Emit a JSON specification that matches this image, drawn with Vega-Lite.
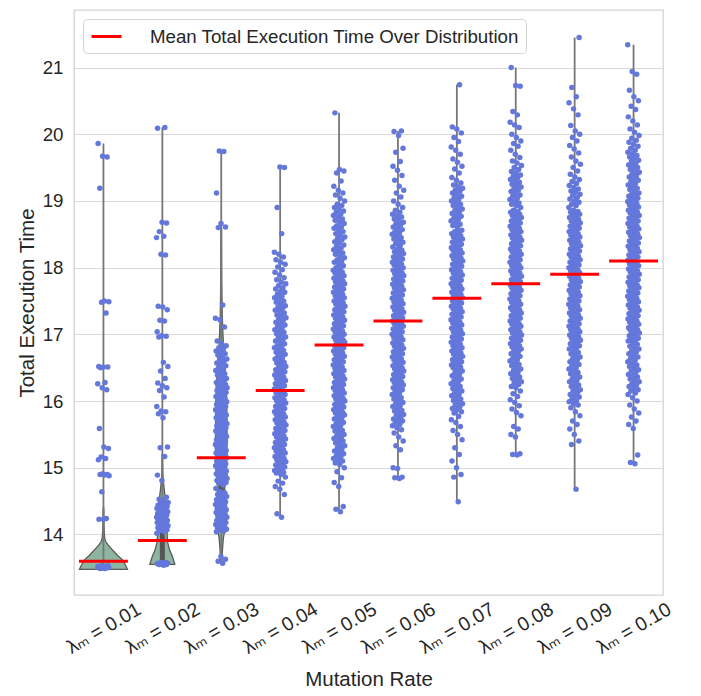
{
  "$schema": "https://vega.github.io/schema/vega-lite/v6.json",
  "width": 589,
  "height": 585,
  "autosize": "none",
  "padding": {"left": 74, "top": 10, "right": 38, "bottom": 101},
  "background": "white",
  "config": {
    "font": "Liberation Sans",
    "view": {"stroke": "#d4d4d4", "strokeWidth": 1.3},
    "axis": {
      "labelFont": "Liberation Sans, DejaVu Sans",
      "titleFont": "Liberation Sans",
      "labelColor": "#262626",
      "titleColor": "#262626",
      "titleFontWeight": "normal",
      "domain": false,
      "ticks": false,
      "tickSize": 0,
      "gridColor": "#d9d9d9",
      "gridWidth": 1.2
    },
    "axisX": {"grid": false}
  },
  "datasets": {
    "pts": [
      {"c": 0, "v": [13.49,13.49,13.5,13.5,13.5,13.5,13.5,13.51,13.51,13.51,13.51,13.52,13.52,13.52,13.53,13.53,14.23,14.23,14.24,14.64,14.88,14.89,14.9,14.9,14.91,15.12,15.14,15.16,15.29,15.31,15.59,16.17,16.2,16.26,16.28,16.5,16.51,16.51,16.52,17.32,17.48,17.49,17.5,19.19,19.66,19.67,19.86]},
      {"c": 1, "v": [13.54,13.55,13.55,13.56,13.56,13.56,13.56,13.57,13.57,13.57,13.58,13.58,14.02,14.04,14.06,14.07,14.08,14.1,14.11,14.12,14.13,14.14,14.15,14.16,14.17,14.18,14.19,14.2,14.21,14.22,14.23,14.24,14.25,14.26,14.27,14.28,14.29,14.3,14.31,14.32,14.33,14.34,14.35,14.36,14.37,14.38,14.39,14.4,14.41,14.42,14.43,14.44,14.45,14.46,14.48,14.5,14.53,14.56,14.81,14.89,15.17,15.3,15.31,15.75,15.81,15.84,15.85,15.92,16.06,16.16,16.2,16.23,16.27,16.34,16.45,16.52,16.58,16.96,16.97,16.98,17.04,17.2,17.21,17.37,17.41,17.42,18.19,18.2,18.45,18.47,18.54,18.67,18.68,20.09,20.1]},
      {"c": 2, "v": [13.57,13.6,13.63,13.67,14.04,14.05,14.07,14.08,14.08,14.1,14.11,14.14,14.15,14.16,14.18,14.18,14.19,14.21,14.22,14.23,14.26,14.27,14.29,14.3,14.31,14.33,14.33,14.35,14.37,14.38,14.39,14.42,14.43,14.45,14.46,14.47,14.49,14.5,14.52,14.53,14.56,14.57,14.59,14.6,14.62,14.64,14.69,14.74,14.77,14.78,14.8,14.81,14.81,14.83,14.84,14.87,14.88,14.89,14.91,14.91,14.92,14.94,14.95,14.96,14.99,15.0,15.02,15.03,15.04,15.06,15.06,15.08,15.1,15.11,15.12,15.15,15.16,15.18,15.19,15.2,15.22,15.23,15.25,15.26,15.29,15.3,15.32,15.33,15.35,15.37,15.38,15.39,15.41,15.42,15.45,15.46,15.47,15.49,15.5,15.52,15.53,15.55,15.56,15.57,15.6,15.61,15.63,15.64,15.64,15.66,15.68,15.69,15.71,15.72,15.75,15.76,15.78,15.79,15.8,15.82,15.83,15.85,15.87,15.88,15.91,15.92,15.93,15.95,15.96,15.98,15.99,16.01,16.02,16.04,16.06,16.07,16.09,16.1,16.13,16.14,16.16,16.17,16.18,16.2,16.21,16.23,16.25,16.26,16.28,16.3,16.32,16.34,16.37,16.39,16.41,16.44,16.46,16.47,16.5,16.53,16.55,16.57,16.6,16.62,16.63,16.66,16.69,16.71,16.73,16.75,16.78,16.8,16.83,16.86,16.9,17.11,17.22,17.24,17.44,18.6,18.61,18.66,19.12,19.74,19.75]},
      {"c": 3, "v": [14.26,14.31,14.6,14.68,14.72,14.77,14.8,14.86,14.9,14.92,14.93,14.95,14.96,14.98,15.0,15.01,15.03,15.04,15.06,15.08,15.09,15.11,15.12,15.14,15.16,15.17,15.19,15.2,15.22,15.24,15.25,15.27,15.28,15.3,15.32,15.33,15.35,15.36,15.38,15.4,15.41,15.43,15.44,15.46,15.48,15.49,15.51,15.52,15.54,15.56,15.57,15.59,15.6,15.62,15.64,15.65,15.67,15.68,15.7,15.72,15.73,15.75,15.76,15.78,15.8,15.81,15.83,15.84,15.86,15.88,15.89,15.91,15.92,15.94,15.96,15.97,15.99,16.0,16.02,16.04,16.05,16.07,16.08,16.1,16.12,16.13,16.15,16.16,16.18,16.2,16.21,16.23,16.24,16.26,16.28,16.29,16.31,16.32,16.34,16.36,16.37,16.39,16.4,16.42,16.44,16.45,16.47,16.48,16.5,16.52,16.54,16.57,16.58,16.61,16.63,16.64,16.67,16.7,16.71,16.73,16.76,16.77,16.8,16.82,16.83,16.86,16.89,16.9,16.92,16.95,16.96,16.99,17.01,17.03,17.06,17.07,17.1,17.12,17.14,17.17,17.18,17.21,17.23,17.25,17.28,17.29,17.32,17.35,17.36,17.39,17.41,17.43,17.46,17.48,17.5,17.53,17.55,17.57,17.6,17.63,17.64,17.68,17.7,17.73,17.76,17.78,17.82,17.85,17.89,17.93,17.97,18.01,18.05,18.08,18.12,18.16,18.2,18.23,18.51,18.9,19.5,19.51]},
      {"c": 4, "v": [14.34,14.38,14.42,14.72,14.78,14.85,14.94,15.0,15.05,15.07,15.1,15.11,15.14,15.17,15.18,15.21,15.24,15.25,15.28,15.3,15.33,15.34,15.37,15.4,15.41,15.44,15.46,15.48,15.5,15.53,15.55,15.56,15.59,15.62,15.63,15.66,15.68,15.7,15.73,15.74,15.77,15.79,15.8,15.82,15.83,15.84,15.87,15.88,15.9,15.91,15.93,15.95,15.96,15.98,16.0,16.01,16.03,16.04,16.06,16.08,16.09,16.11,16.12,16.14,16.16,16.17,16.19,16.2,16.22,16.24,16.25,16.27,16.28,16.3,16.32,16.33,16.35,16.36,16.38,16.4,16.41,16.43,16.44,16.46,16.48,16.49,16.51,16.52,16.54,16.56,16.57,16.59,16.6,16.62,16.64,16.65,16.67,16.68,16.7,16.72,16.73,16.75,16.76,16.78,16.8,16.81,16.83,16.84,16.86,16.88,16.89,16.91,16.92,16.94,16.96,16.97,16.99,17.0,17.02,17.04,17.05,17.07,17.08,17.1,17.12,17.13,17.15,17.16,17.18,17.2,17.21,17.23,17.24,17.26,17.28,17.29,17.31,17.32,17.34,17.36,17.37,17.39,17.4,17.42,17.44,17.45,17.47,17.48,17.5,17.52,17.53,17.55,17.56,17.58,17.6,17.61,17.63,17.64,17.66,17.68,17.69,17.71,17.72,17.74,17.76,17.77,17.79,17.8,17.82,17.84,17.85,17.87,17.88,17.9,17.92,17.93,17.95,17.96,17.98,18.0,18.03,18.05,18.08,18.1,18.12,18.15,18.17,18.2,18.22,18.25,18.27,18.29,18.32,18.34,18.37,18.39,18.42,18.44,18.46,18.49,18.51,18.54,18.56,18.59,18.61,18.63,18.66,18.68,18.71,18.73,18.76,18.78,18.8,18.83,18.85,18.88,18.9,18.93,18.95,19.0,19.04,19.09,19.12,19.16,19.22,19.3,19.42,19.45,19.47,20.32]},
      {"c": 5, "v": [14.84,14.85,14.86,14.99,15.0,15.27,15.33,15.4,15.46,15.52,15.57,15.6,15.63,15.65,15.67,15.7,15.72,15.73,15.76,15.79,15.8,15.83,15.85,15.86,15.89,15.92,15.93,15.96,15.98,16.0,16.03,16.05,16.07,16.1,16.12,16.14,16.17,16.18,16.2,16.21,16.23,16.24,16.26,16.28,16.29,16.31,16.32,16.34,16.36,16.37,16.39,16.4,16.42,16.44,16.45,16.47,16.48,16.5,16.52,16.53,16.55,16.56,16.58,16.6,16.61,16.63,16.64,16.66,16.68,16.69,16.71,16.72,16.74,16.76,16.77,16.79,16.8,16.82,16.84,16.85,16.87,16.88,16.9,16.92,16.93,16.95,16.96,16.98,17.0,17.01,17.03,17.04,17.06,17.08,17.09,17.11,17.12,17.14,17.16,17.17,17.19,17.2,17.22,17.24,17.25,17.27,17.28,17.3,17.32,17.33,17.35,17.36,17.38,17.4,17.41,17.43,17.44,17.46,17.48,17.49,17.51,17.52,17.54,17.56,17.57,17.59,17.6,17.62,17.64,17.65,17.67,17.68,17.7,17.72,17.73,17.75,17.76,17.78,17.8,17.81,17.83,17.84,17.86,17.88,17.89,17.91,17.92,17.94,17.96,17.97,17.99,18.0,18.02,18.04,18.05,18.07,18.08,18.1,18.12,18.13,18.15,18.16,18.18,18.2,18.21,18.23,18.24,18.26,18.28,18.31,18.33,18.36,18.38,18.4,18.43,18.45,18.47,18.5,18.52,18.54,18.57,18.59,18.61,18.64,18.66,18.68,18.71,18.73,18.76,18.78,18.8,18.83,18.86,18.9,18.95,19.0,19.06,19.12,19.16,19.22,19.31,19.38,19.46,19.52,19.59,19.73,19.79,19.98,20.04,20.05]},
      {"c": 6, "v": [14.49,14.86,14.9,15.0,15.1,15.2,15.3,15.42,15.5,15.56,15.62,15.68,15.72,15.77,15.82,15.84,15.87,15.89,15.91,15.94,15.96,15.98,16.01,16.03,16.05,16.08,16.1,16.12,16.15,16.17,16.19,16.22,16.24,16.26,16.29,16.31,16.33,16.36,16.38,16.4,16.43,16.45,16.47,16.5,16.51,16.53,16.54,16.56,16.58,16.59,16.61,16.62,16.64,16.66,16.67,16.69,16.7,16.72,16.74,16.75,16.77,16.78,16.8,16.82,16.83,16.85,16.86,16.88,16.9,16.91,16.93,16.94,16.96,16.98,16.99,17.01,17.02,17.04,17.06,17.07,17.09,17.1,17.12,17.14,17.15,17.17,17.18,17.2,17.22,17.23,17.25,17.26,17.28,17.3,17.31,17.33,17.34,17.36,17.38,17.39,17.41,17.42,17.44,17.46,17.47,17.49,17.5,17.52,17.54,17.55,17.57,17.58,17.6,17.62,17.63,17.65,17.66,17.68,17.7,17.71,17.73,17.74,17.76,17.78,17.79,17.81,17.82,17.84,17.86,17.87,17.89,17.9,17.92,17.94,17.95,17.97,17.98,18.0,18.02,18.03,18.05,18.06,18.08,18.1,18.11,18.13,18.14,18.16,18.18,18.19,18.21,18.22,18.24,18.26,18.27,18.29,18.3,18.32,18.34,18.35,18.37,18.38,18.4,18.42,18.43,18.45,18.46,18.48,18.5,18.51,18.53,18.54,18.56,18.6,18.63,18.65,18.67,18.7,18.72,18.74,18.77,18.79,18.81,18.84,18.86,18.88,18.91,18.93,18.95,18.98,19.0,19.02,19.05,19.07,19.09,19.12,19.14,19.16,19.19,19.21,19.24,19.27,19.31,19.35,19.42,19.48,19.52,19.58,19.63,19.7,19.76,19.81,19.89,19.95,20.02,20.08,20.11,20.74]},
      {"c": 7, "v": [15.19,15.2,15.21,15.46,15.5,15.58,15.62,15.78,15.83,15.88,15.93,15.98,16.02,16.07,16.11,16.15,16.2,16.22,16.25,16.27,16.29,16.32,16.34,16.36,16.39,16.41,16.43,16.46,16.48,16.5,16.53,16.55,16.57,16.6,16.62,16.64,16.67,16.69,16.71,16.74,16.76,16.78,16.8,16.81,16.83,16.84,16.86,16.88,16.89,16.91,16.92,16.94,16.96,16.97,16.99,17.0,17.02,17.04,17.05,17.07,17.08,17.1,17.12,17.13,17.15,17.16,17.18,17.2,17.21,17.23,17.24,17.26,17.28,17.29,17.31,17.32,17.34,17.36,17.37,17.39,17.4,17.42,17.44,17.45,17.47,17.48,17.5,17.52,17.53,17.55,17.56,17.58,17.6,17.61,17.63,17.64,17.66,17.68,17.69,17.71,17.72,17.74,17.76,17.77,17.79,17.8,17.82,17.84,17.85,17.87,17.88,17.9,17.92,17.93,17.95,17.96,17.98,18.0,18.01,18.03,18.04,18.06,18.08,18.09,18.11,18.12,18.14,18.16,18.17,18.19,18.2,18.22,18.24,18.25,18.27,18.28,18.3,18.32,18.33,18.35,18.36,18.38,18.4,18.41,18.43,18.44,18.46,18.48,18.49,18.51,18.52,18.54,18.56,18.57,18.59,18.6,18.62,18.64,18.65,18.67,18.68,18.7,18.72,18.73,18.75,18.76,18.78,18.8,18.81,18.83,18.84,18.86,18.9,18.93,18.95,18.97,19.0,19.02,19.04,19.07,19.09,19.11,19.14,19.16,19.18,19.21,19.23,19.25,19.28,19.3,19.32,19.35,19.37,19.39,19.42,19.44,19.47,19.5,19.53,19.57,19.6,19.65,19.7,19.76,19.82,19.86,19.9,19.95,20.0,20.1,20.14,20.18,20.29,20.34,20.72,20.73,21.0]},
      {"c": 8, "v": [14.68,15.35,15.4,15.5,15.58,15.65,15.7,15.78,15.84,15.9,15.94,15.96,15.99,16.01,16.03,16.06,16.08,16.1,16.13,16.15,16.17,16.2,16.22,16.24,16.27,16.29,16.31,16.34,16.36,16.38,16.41,16.43,16.45,16.48,16.5,16.52,16.55,16.57,16.59,16.62,16.64,16.66,16.69,16.71,16.73,16.76,16.78,16.8,16.81,16.83,16.84,16.86,16.88,16.89,16.91,16.92,16.94,16.96,16.97,16.99,17.0,17.02,17.04,17.05,17.07,17.08,17.1,17.12,17.13,17.15,17.16,17.18,17.2,17.21,17.23,17.24,17.26,17.28,17.29,17.31,17.32,17.34,17.36,17.37,17.39,17.4,17.42,17.44,17.45,17.47,17.48,17.5,17.52,17.53,17.55,17.56,17.58,17.6,17.61,17.63,17.64,17.66,17.68,17.69,17.71,17.72,17.74,17.76,17.77,17.79,17.8,17.82,17.84,17.85,17.87,17.88,17.9,17.92,17.93,17.95,17.96,17.98,18.0,18.01,18.03,18.04,18.06,18.08,18.09,18.11,18.12,18.14,18.16,18.17,18.19,18.2,18.22,18.24,18.25,18.27,18.28,18.3,18.32,18.33,18.35,18.36,18.38,18.4,18.41,18.43,18.44,18.46,18.48,18.49,18.51,18.52,18.54,18.56,18.57,18.59,18.6,18.62,18.64,18.65,18.67,18.68,18.7,18.72,18.73,18.75,18.76,18.78,18.8,18.81,18.83,18.84,18.86,18.9,18.93,18.95,18.98,19.0,19.03,19.05,19.08,19.1,19.13,19.15,19.18,19.2,19.23,19.26,19.29,19.32,19.36,19.4,19.45,19.5,19.55,19.6,19.66,19.72,19.78,19.83,19.9,19.95,20.0,20.05,20.13,20.29,20.38,20.47,20.56,20.7,21.45]},
      {"c": 9, "v": [15.06,15.08,15.19,15.59,15.65,15.7,15.76,15.82,15.88,15.94,16.0,16.05,16.1,16.12,16.15,16.17,16.19,16.22,16.24,16.26,16.29,16.31,16.33,16.36,16.38,16.4,16.43,16.45,16.47,16.5,16.52,16.54,16.57,16.59,16.61,16.64,16.66,16.68,16.71,16.73,16.75,16.78,16.8,16.82,16.85,16.87,16.9,16.91,16.93,16.94,16.96,16.98,16.99,17.01,17.02,17.04,17.06,17.07,17.09,17.1,17.12,17.14,17.15,17.17,17.18,17.2,17.22,17.23,17.25,17.26,17.28,17.3,17.31,17.33,17.34,17.36,17.38,17.39,17.41,17.42,17.44,17.46,17.47,17.49,17.5,17.52,17.54,17.55,17.57,17.58,17.6,17.62,17.63,17.65,17.66,17.68,17.7,17.71,17.73,17.74,17.76,17.78,17.79,17.81,17.82,17.84,17.86,17.87,17.89,17.9,17.92,17.94,17.95,17.97,17.98,18.0,18.02,18.03,18.05,18.06,18.08,18.1,18.11,18.13,18.14,18.16,18.18,18.19,18.21,18.22,18.24,18.26,18.27,18.29,18.3,18.32,18.34,18.35,18.37,18.38,18.4,18.42,18.43,18.45,18.46,18.48,18.5,18.51,18.53,18.54,18.56,18.58,18.59,18.61,18.62,18.64,18.66,18.67,18.69,18.7,18.72,18.74,18.75,18.77,18.78,18.8,18.82,18.83,18.85,18.86,18.88,18.9,18.91,18.93,18.94,18.96,18.98,18.99,19.01,19.02,19.04,19.06,19.07,19.09,19.1,19.12,19.15,19.17,19.19,19.22,19.24,19.26,19.29,19.31,19.33,19.36,19.38,19.4,19.43,19.45,19.47,19.5,19.52,19.54,19.57,19.59,19.61,19.64,19.66,19.68,19.71,19.73,19.76,19.79,19.82,19.85,19.88,19.91,19.94,19.98,20.03,20.08,20.14,20.2,20.26,20.37,20.42,20.5,20.56,20.66,20.9,20.94,21.34]}
    ],
    "stats": [
      {"c": 0, "mean": 13.6, "q1": 13.5, "q3": 13.52},
      {"c": 1, "mean": 13.91, "q1": 13.57, "q3": 14.1},
      {"c": 2, "mean": 15.15, "q1": 14.5, "q3": 15.8},
      {"c": 3, "mean": 16.16, "q1": 15.55, "q3": 16.75},
      {"c": 4, "mean": 16.84, "q1": 16.2, "q3": 17.5},
      {"c": 5, "mean": 17.2, "q1": 16.55, "q3": 17.85},
      {"c": 6, "mean": 17.54, "q1": 16.9, "q3": 18.2},
      {"c": 7, "mean": 17.76, "q1": 17.15, "q3": 18.4},
      {"c": 8, "mean": 17.9, "q1": 17.25, "q3": 18.55},
      {"c": 9, "mean": 18.1, "q1": 17.45, "q3": 18.75}
    ],
    "violin": [
      {"c": 0, "v": 13.478, "d": 1.0}, {"c": 0, "v": 13.54, "d": 0.92}, {"c": 0, "v": 13.62, "d": 0.79}, {"c": 0, "v": 13.69, "d": 0.58}, {"c": 0, "v": 13.77, "d": 0.375}, {"c": 0, "v": 13.84, "d": 0.2}, {"c": 0, "v": 13.89, "d": 0.1}, {"c": 0, "v": 13.95, "d": 0.05}, {"c": 0, "v": 14.05, "d": 0.03}, {"c": 0, "v": 14.2, "d": 0.02}, {"c": 0, "v": 14.4, "d": 0.012},
      {"c": 1, "v": 13.553, "d": 0.52}, {"c": 1, "v": 13.6, "d": 0.48}, {"c": 1, "v": 13.67, "d": 0.42}, {"c": 1, "v": 13.77, "d": 0.3}, {"c": 1, "v": 13.87, "d": 0.23}, {"c": 1, "v": 13.97, "d": 0.2}, {"c": 1, "v": 14.07, "d": 0.2}, {"c": 1, "v": 14.17, "d": 0.21}, {"c": 1, "v": 14.27, "d": 0.21}, {"c": 1, "v": 14.37, "d": 0.2}, {"c": 1, "v": 14.47, "d": 0.16}, {"c": 1, "v": 14.55, "d": 0.12}, {"c": 1, "v": 14.67, "d": 0.08}, {"c": 1, "v": 14.79, "d": 0.045}, {"c": 1, "v": 14.87, "d": 0.025}, {"c": 1, "v": 15.0, "d": 0.015}, {"c": 1, "v": 15.2, "d": 0.01},
      {"c": 2, "v": 13.57, "d": 0.02}, {"c": 2, "v": 13.7, "d": 0.04}, {"c": 2, "v": 13.82, "d": 0.06}, {"c": 2, "v": 13.95, "d": 0.09}, {"c": 2, "v": 14.04, "d": 0.13}, {"c": 2, "v": 14.15, "d": 0.18}, {"c": 2, "v": 14.3, "d": 0.22}, {"c": 2, "v": 14.45, "d": 0.22}, {"c": 2, "v": 14.6, "d": 0.18}, {"c": 2, "v": 14.7, "d": 0.14}, {"c": 2, "v": 14.8, "d": 0.18}, {"c": 2, "v": 15.0, "d": 0.22}, {"c": 2, "v": 15.3, "d": 0.24}, {"c": 2, "v": 15.6, "d": 0.24}, {"c": 2, "v": 15.9, "d": 0.23}, {"c": 2, "v": 16.2, "d": 0.21}, {"c": 2, "v": 16.5, "d": 0.16}, {"c": 2, "v": 16.8, "d": 0.1}, {"c": 2, "v": 17.0, "d": 0.07}, {"c": 2, "v": 17.3, "d": 0.04}, {"c": 2, "v": 17.8, "d": 0.02}, {"c": 2, "v": 18.6, "d": 0.012}
    ]
  },
  "layer": [
    {
      "data": {"name": "violin"},
      "transform": [
        {"calculate": "datum.c - datum.d * 0.4075", "as": "lo"},
        {"calculate": "datum.c + datum.d * 0.4075", "as": "hi"}
      ],
      "mark": {"type": "area", "orient": "horizontal", "fill": "#8db59f", "stroke": "#5a5a5a", "strokeWidth": 1.3, "opacity": 1},
      "encoding": {
        "y": {
          "field": "v", "type": "quantitative",
          "scale": {"domain": [13.093, 21.862], "nice": false, "zero": false},
          "axis": {
            "values": [14, 15, 16, 17, 18, 19, 20, 21],
            "format": "d",
            "labelFontSize": 18.7,
            "labelPadding": 11,
            "grid": true,
            "title": "Total Execution Time",
            "titleFontSize": 20.5,
            "titlePadding": 5
          }
        },
        "x": {
          "field": "lo", "type": "quantitative",
          "scale": {"domain": [-0.5, 9.5], "nice": false, "zero": false},
          "axis": {
            "values": [0, 1, 2, 3, 4, 5, 6, 7, 8, 9],
            "labelExpr": "['λₘ = 0.01','λₘ = 0.02','λₘ = 0.03','λₘ = 0.04','λₘ = 0.05','λₘ = 0.06','λₘ = 0.07','λₘ = 0.08','λₘ = 0.09','λₘ = 0.10'][datum.value]",
            "labelAngle": -30,
            "labelAlign": "center",
            "labelBaseline": "middle",
            "labelPadding": 33,
            "labelFontSize": 19.5,
            "labelOverlap": false,
            "labelFlush": false,
            "labelBound": false,
            "title": "Mutation Rate",
            "titleFontSize": 20.5,
            "titlePadding": 13
          }
        },
        "x2": {"field": "hi"},
        "detail": {"field": "c", "type": "nominal"}
      }
    },
    {
      "data": {"name": "pts"},
      "transform": [{"flatten": ["v"]}],
      "mark": {"type": "rule", "color": "#777777", "strokeWidth": 1.8, "opacity": 1},
      "encoding": {
        "x": {"field": "c", "type": "quantitative"},
        "y": {"aggregate": "min", "field": "v", "type": "quantitative"},
        "y2": {"aggregate": "max", "field": "v"}
      }
    },
    {
      "data": {"name": "stats"},
      "mark": {"type": "rule", "color": "#555555", "strokeWidth": 5, "opacity": 1},
      "encoding": {
        "x": {"field": "c", "type": "quantitative"},
        "y": {"field": "q1", "type": "quantitative"},
        "y2": {"field": "q3"}
      }
    },
    {
      "data": {"name": "pts"},
      "transform": [
        {"flatten": ["v"]},
        {"window": [{"op": "row_number", "as": "rn"}], "sort": [{"field": "v"}], "groupby": ["c"]},
        {"calculate": "datum.c + ((datum.rn * 0.6180339887) % 1 - 0.5) * 0.2", "as": "xj"}
      ],
      "mark": {"type": "circle", "size": 30, "color": "#6477db", "opacity": 1},
      "encoding": {
        "x": {"field": "xj", "type": "quantitative"},
        "y": {"field": "v", "type": "quantitative"}
      }
    },
    {
      "data": {"name": "stats"},
      "transform": [
        {"calculate": "datum.c - 0.415", "as": "m0"},
        {"calculate": "datum.c + 0.415", "as": "m1"}
      ],
      "mark": {"type": "rule", "strokeWidth": 3, "opacity": 1},
      "encoding": {
        "x": {"field": "m0", "type": "quantitative"},
        "x2": {"field": "m1"},
        "y": {"field": "mean", "type": "quantitative"},
        "color": {
          "datum": "Mean Total Execution Time Over Distribution",
          "type": "nominal",
          "scale": {"range": ["#ff0000"]},
          "legend": {
            "title": null,
            "orient": "top-left",
            "offset": 9,
            "padding": 6,
            "symbolType": "M-0.9,0H2.1",
            "symbolSize": 400,
            "symbolStrokeWidth": 3,
            "symbolStrokeColor": "#ff0000",
            "labelFontSize": 18.7,
            "labelFont": "Liberation Sans",
            "labelColor": "#262626",
            "labelOffset": 38,
            "labelLimit": 0,
            "strokeColor": "#d4d4d4",
            "fillColor": "#ffffff",
            "cornerRadius": 4
          }
        }
      }
    }
  ]
}
